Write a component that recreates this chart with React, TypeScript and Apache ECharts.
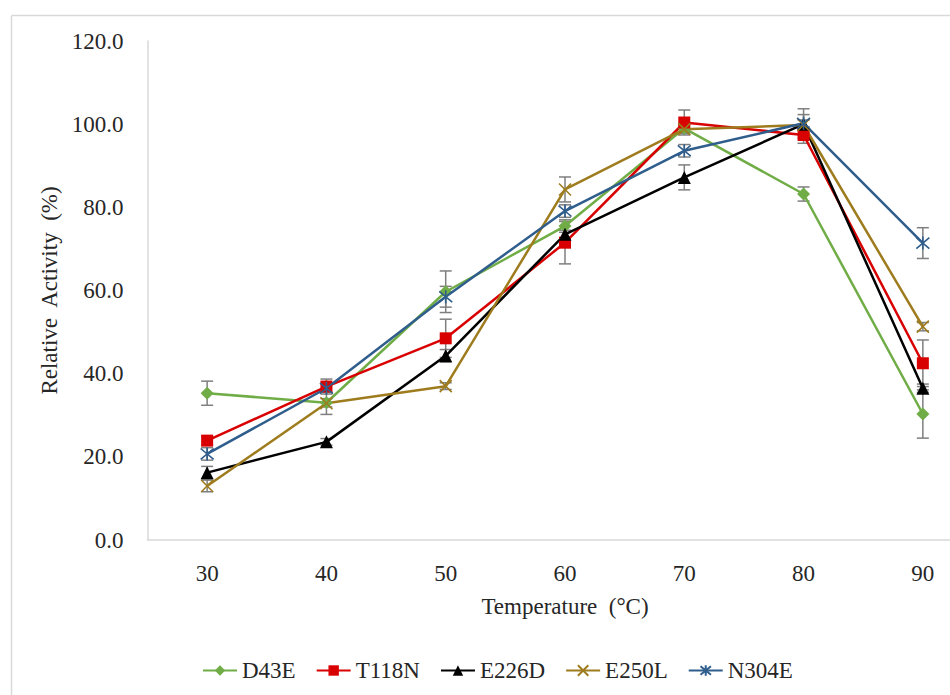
import React, { useEffect, useRef } from "react";
import * as echarts from "echarts";

const temps = ["30", "40", "50", "60", "70", "80", "90"];
const yTicks = [0, 20, 40, 60, 80, 100, 120];

const d43e = [35.3, 33.0, 59.7, 75.5, 99.0, 83.2, 30.3];
const d43eErr = [2.9, 1.0, 5.0, 1.5, 1.0, 1.7, 5.8];
const t118n = [23.9, 36.9, 48.5, 71.5, 100.4, 97.4, 42.5];
const t118nErr = [1.0, 1.8, 4.6, 5.1, 3.0, 2.0, 5.6];
const e226d = [16.2, 23.6, 44.3, 73.5, 87.2, 100.0, 36.5];
const e226dErr = [1.5, 0.8, 1.5, 1.0, 3.0, 1.0, 1.0];
const e250l = [13.0, 32.9, 37.0, 84.3, 98.8, 99.8, 51.3];
const e250lErr = [1.4, 2.7, 0.8, 3.0, 1.0, 2.5, 1.0];
const n304e = [20.7, 36.5, 58.5, 79.1, 93.6, 100.2, 71.4];
const n304eErr = [1.5, 1.0, 2.5, 1.5, 1.5, 3.5, 3.7];

const FONT = "Liberation Serif";
const FS = 23;
const TXT = "#262626";
const X_PATH = "path://M0,0L10,10M10,0L0,10";
const AST_PATH = "path://M0,0L10,10M10,0L0,10M5,-1L5,11";

type S = {
  name: string;
  values: number[];
  err: number[];
  color: string;
  symbol: string;
  size: number;
  stroke?: boolean;
};

const seriesDefs: S[] = [
  { name: "D43E", values: d43e, err: d43eErr, color: "#70AD47", symbol: "diamond", size: 13 },
  { name: "T118N", values: t118n, err: t118nErr, color: "#D80000", symbol: "rect", size: 12 },
  { name: "E226D", values: e226d, err: e226dErr, color: "#000000", symbol: "triangle", size: 13 },
  { name: "E250L", values: e250l, err: e250lErr, color: "#9E7C1E", symbol: X_PATH, size: 12, stroke: true },
  { name: "N304E", values: n304e, err: n304eErr, color: "#2F5D8C", symbol: AST_PATH, size: 13, stroke: true },
];

export default function App() {
  const ref = useRef<HTMLDivElement>(null);
  useEffect(() => {
    if (!ref.current) return;
    const chart = echarts.init(ref.current, null, { renderer: "svg" });

    const errSeries = seriesDefs.map((s) => ({
      type: "custom",
      name: s.name + "_err",
      z: 1,
      silent: true,
      encode: { x: 0, y: [1, 2] },
      data: s.values.map((v, i) => [i, v - s.err[i], v + s.err[i]]),
      renderItem: (params: any, api: any) => {
        const i = api.value(0);
        const lo = api.coord([i, api.value(1)]);
        const hi = api.coord([i, api.value(2)]);
        const cw = 6;
        const style = { stroke: "#7F7F7F", lineWidth: 1.5 };
        return {
          type: "group",
          children: [
            { type: "line", shape: { x1: lo[0], y1: lo[1], x2: hi[0], y2: hi[1] }, style },
            { type: "line", shape: { x1: lo[0] - cw, y1: lo[1], x2: lo[0] + cw, y2: lo[1] }, style },
            { type: "line", shape: { x1: hi[0] - cw, y1: hi[1], x2: hi[0] + cw, y2: hi[1] }, style },
          ],
        };
      },
    }));

    const lineSeries = seriesDefs.map((s) => ({
      type: "line",
      name: s.name,
      z: 3,
      data: s.values,
      color: s.color,
      symbol: s.symbol,
      symbolSize: s.size,
      showAllSymbol: true,
      lineStyle: { color: s.color, width: 2.5 },
      itemStyle: s.stroke
        ? { color: s.color, borderColor: s.color, borderWidth: 1.6 }
        : { color: s.color, borderWidth: 0 },
    }));

    chart.setOption({
      animation: false,
      backgroundColor: "#ffffff",
      textStyle: { fontFamily: FONT },
      graphic: [
        { type: "line", shape: { x1: 11.5, y1: 15.5, x2: 11.5, y2: 700 }, style: { stroke: "#D9D9D9", lineWidth: 1.5 } },
        { type: "line", shape: { x1: 11.5, y1: 15.5, x2: 1000, y2: 15.5 }, style: { stroke: "#D9D9D9", lineWidth: 1.5 } },
      ],
      legend: {
        data: seriesDefs.map((s) => s.name),
        left: 197,
        top: 654,
        itemWidth: 34,
        itemHeight: 13,
        itemGap: 20,
        textStyle: { fontFamily: FONT, fontSize: FS, color: TXT },
      },
      grid: { left: 147.5, top: 41, width: 835, height: 499 },
      xAxis: {
        type: "category",
        data: temps,
        boundaryGap: true,
        name: "Temperature  (°C)",
        nameLocation: "middle",
        nameGap: 55,
        nameTextStyle: { fontFamily: FONT, fontSize: FS, color: TXT },
        axisLine: { lineStyle: { color: "#D9D9D9", width: 1.5 } },
        axisTick: { show: false },
        axisLabel: { fontFamily: FONT, fontSize: FS, color: TXT, margin: 22 },
      },
      yAxis: {
        type: "value",
        min: yTicks[0],
        max: yTicks[yTicks.length - 1],
        interval: 20,
        name: "Relative  Activity  (%)",
        nameLocation: "middle",
        nameGap: 86,
        nameTextStyle: { fontFamily: FONT, fontSize: FS, color: TXT },
        axisLine: { show: true, lineStyle: { color: "#D9D9D9", width: 1.5 } },
        axisTick: { show: false },
        splitLine: { show: false },
        axisLabel: {
          fontFamily: FONT,
          fontSize: FS,
          color: TXT,
          margin: 24,
          formatter: (v: number) => v.toFixed(1),
        },
      },
      series: [...errSeries, ...lineSeries],
    });
    return () => chart.dispose();
  }, []);
  return (
    <div
      style={{ position: "absolute", left: 0, top: 0, width: 950, height: 695, overflow: "hidden", background: "#fff" }}
    >
      <div ref={ref} style={{ width: 1000, height: 695 }} />
    </div>
  );
}
